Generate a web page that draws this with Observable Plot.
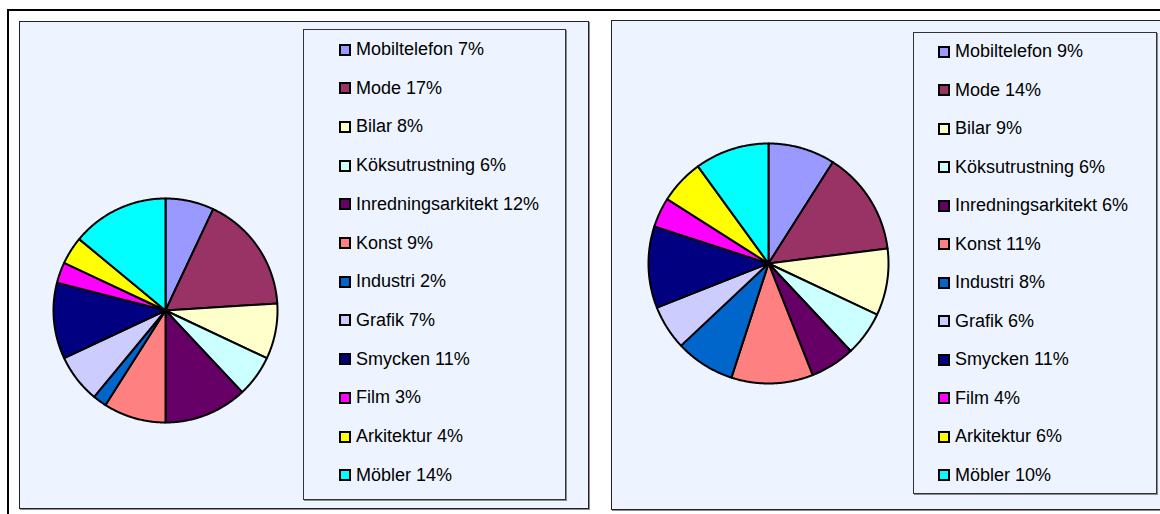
<!DOCTYPE html>
<html>
<head>
<meta charset="utf-8">
<script src="https://cdn.jsdelivr.net/npm/d3@7"></script>
<script src="https://cdn.jsdelivr.net/npm/@observablehq/plot@0.6"></script>
<style>
  html, body { margin: 0; padding: 0; background: #fff; width: 1160px; height: 514px; overflow: hidden; }
  #root { position: relative; width: 1160px; height: 514px; font-family: "Liberation Sans", Arial, sans-serif; }
  .frame { position: absolute; left: 7px; top: 9px; width: 1200px; height: 600px; border-top: 2px solid #000; border-left: 2px solid #000; }
  .panel { position: absolute; background: #EDF4FF; border: 1px solid #222; box-shadow: 1px 1px 0 #8a8a8a; }
  .legend { position: absolute; background: #EDF4FF; border: 1px solid #333; box-shadow: 1px 1px 0 #8a8a8a; }
  .row { position: absolute; display: flex; align-items: center; height: 20px; white-space: nowrap; font-size: 18px; color: #000; }
  .sw { width: 8px; height: 8px; border: 2px solid #000; margin-right: 5px; flex: none; }
  .pie { position: absolute; }
  .pie svg { background: transparent !important; display: block; }
</style>
</head>
<body>
<div id="root">
  <div class="frame"></div>
  <div class="panel" id="p1" style="left:19px; top:21px; width:568px; height:486px;"></div>
  <div class="panel" id="p2" style="left:611px; top:20px; width:600px; height:488px;"></div>
</div>
<script>
// ---- Data ----
const categories = ["Mobiltelefon", "Mode", "Bilar", "Köksutrustning", "Inredningsarkitekt", "Konst", "Industri", "Grafik", "Smycken", "Film", "Arkitektur", "Möbler"];
const colors = ["#9999FF", "#993366", "#FFFFCC", "#CCFFFF", "#660066", "#FF8080", "#0066CC", "#CCCCFF", "#000080", "#FF00FF", "#FFFF00", "#00FFFF"];
const valuesLeft = [7, 17, 8, 6, 12, 9, 2, 7, 11, 3, 4, 14];
const valuesRight = [9, 14, 9, 6, 6, 11, 8, 6, 11, 4, 6, 10];

const root = document.getElementById("root");

function slicePoints(values) {
  const total = d3.sum(values);
  const pts = [];
  let acc = 0;
  values.forEach((v, i) => {
    const a0 = acc / total * 2 * Math.PI;
    acc += v;
    const a1 = acc / total * 2 * Math.PI;
    pts.push({cat: categories[i], x: 0, y: 0});
    const n = Math.max(2, Math.ceil((a1 - a0) / (Math.PI / 360)));
    for (let k = 0; k <= n; k++) {
      const t = a0 + (a1 - a0) * k / n;
      pts.push({cat: categories[i], x: Math.sin(t), y: Math.cos(t)});
    }
  });
  return pts;
}

function drawPie(values, cx, cy, r) {
  const pad = 3;
  const size = 2 * r + 2 * pad;
  const chart = Plot.plot({
    width: size,
    height: size,
    margin: 0,
    x: {domain: [-1, 1], range: [pad, pad + 2 * r], axis: null},
    y: {domain: [-1, 1], range: [pad + 2 * r, pad], axis: null},
    color: {domain: categories, range: colors},
    marks: [
      Plot.line(slicePoints(values), {
        x: "x", y: "y", z: "cat", fill: "cat",
        stroke: "#000", strokeWidth: 2, strokeLinejoin: "round",
        curve: "linear-closed"
      })
    ]
  });
  const wrap = document.createElement("div");
  wrap.className = "pie";
  wrap.style.left = (cx - r - pad) + "px";
  wrap.style.top = (cy - r - pad) + "px";
  wrap.appendChild(chart);
  root.appendChild(wrap);
}

function drawLegend(values, box, firstY, step, textX) {
  const lg = document.createElement("div");
  lg.className = "legend";
  lg.style.left = box.x + "px";
  lg.style.top = box.y + "px";
  lg.style.width = box.w + "px";
  lg.style.height = box.h + "px";
  root.appendChild(lg);
  categories.forEach((c, i) => {
    const row = document.createElement("div");
    row.className = "row";
    row.style.left = textX + "px";
    row.style.top = (firstY + i * step - 10) + "px";
    const sw = document.createElement("div");
    sw.className = "sw";
    sw.style.background = colors[i];
    const tx = document.createElement("span");
    tx.textContent = c + " " + values[i] + "%";
    row.appendChild(sw);
    row.appendChild(tx);
    root.appendChild(row);
  });
}

drawPie(valuesLeft, 165, 310, 112);
drawPie(valuesRight, 768, 263, 120);
drawLegend(valuesLeft, {x: 303, y: 29, w: 261, h: 469}, 49.5, 38.7, 339);
drawLegend(valuesRight, {x: 913, y: 32, w: 242, h: 460}, 51.5, 38.5, 938);
</script>
</body>
</html>
